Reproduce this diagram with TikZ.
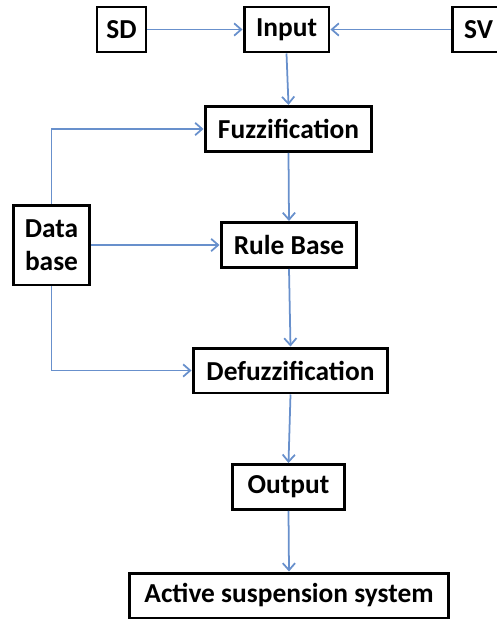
\documentclass[tikz,border=0pt]{standalone}
\usepackage{fontspec}
\setmainfont{Carlito}
\usepackage{tikz}
\usetikzlibrary{arrows.meta,positioning}

\definecolor{linkblue}{HTML}{6890CC}

\begin{document}
\begin{tikzpicture}[
  x=0.02cm, y=-0.02cm,
  font=\fontsize{15.6}{19}\selectfont\bfseries,
  block/.style={rectangle, draw=black, line width=1.7pt, fill=white, inner sep=0pt,
    minimum height=0.9cm, align=center},
  arrow/.style={-{Straight Barb[length=4pt, width=7pt]}, draw=linkblue, line width=1pt}
]
  \useasboundingbox (0,0) rectangle (497,619);

  % sources feeding the input
  \node[block, minimum width=0.98cm] (sd) at (121.5,29.5) {SD};
  \node[block, minimum width=1.7cm] (in) at (286.5,29.5) {Input};
  \node[block, minimum width=1.06cm] (sv) at (478.5,29.5) {SV};

  % fuzzy controller chain
  \node[block, minimum width=3.34cm] (fuzz) at (288.5,129) {Fuzzification};
  \node[block, minimum width=2.72cm] (rule) at (289,245) {Rule Base};
  \node[block, minimum width=3.9cm] (defuzz) at (290.5,370.5) {Defuzzification};
  \node[block, minimum width=2.26cm] (out) at (288.5,487) {Output};
  \node[block, minimum width=6.4cm] (plant) at (289,595.5) {Active suspension system};

  \node[block, minimum width=1.54cm, minimum height=1.6cm] (db) at (51.5,245) {Data\\base};

  \draw[arrow] (sd) -- (in);
  \draw[arrow] (sv) -- (in);
  \draw[arrow] (in.south) -- (fuzz.north);
  \draw[arrow] (fuzz.south) -- (rule.north);
  \draw[arrow] (rule.south) -- (defuzz.north);
  \draw[arrow] (defuzz.south) -- (out.north);
  \draw[arrow] (out.south) -- (plant.north);

  % data base links
  \draw[arrow] (db.north) |- (fuzz.west);
  \draw[arrow] (db) -- (rule);
  \draw[arrow] (db.south) |- (defuzz.west);
\end{tikzpicture}
\end{document}
